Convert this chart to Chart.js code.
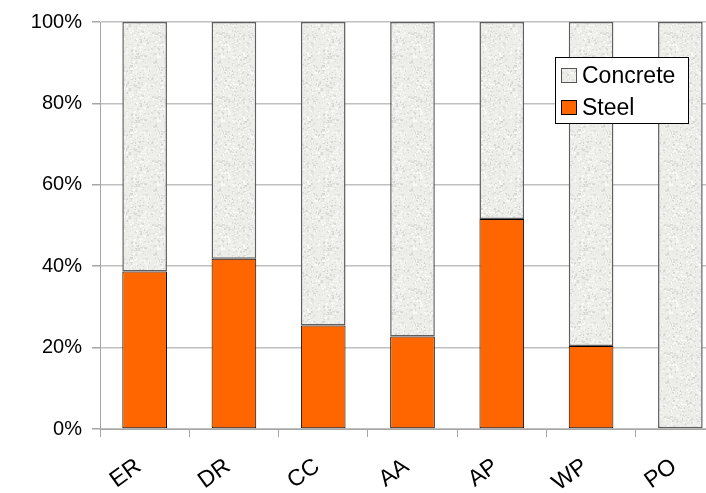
<!DOCTYPE html>
<html>
<head>
<meta charset="utf-8">
<script src="https://cdn.jsdelivr.net/npm/chart.js@4.4.0/dist/chart.umd.min.js"></script>
<style>
  html, body { margin: 0; padding: 0; background: #fff; overflow: hidden; }
  #wrap { width: 730px; height: 493px; }
</style>
</head>
<body>
<div id="wrap"><canvas id="c" width="730" height="493"></canvas></div>
<script>
// Share of structure material by site (percent)
const categories = ['ER', 'DR', 'CC', 'AA', 'AP', 'WP', 'PO'];
const steelShare = [38.7, 41.8, 25.4, 22.7, 51.6, 20.4, 0];
const concreteShare = [61.3, 58.2, 74.6, 77.3, 48.4, 79.6, 100];
const yTicks = [0, 20, 40, 60, 80, 100];

const FONT = "'Liberation Sans', Arial, sans-serif";

// Mottled grey fill used for the concrete portion
function makeConcretePattern() {
  const size = 64;
  const pc = document.createElement('canvas');
  pc.width = size; pc.height = size;
  const g = pc.getContext('2d');
  g.fillStyle = '#ededea';
  g.fillRect(0, 0, size, size);
  let seed = 98765;
  const rnd = () => { seed = (seed * 1103515245 + 12345) & 0x7fffffff; return seed / 0x7fffffff; };
  for (let i = 0; i < 700; i++) {
    const x = Math.floor(rnd() * size), y = Math.floor(rnd() * size);
    const dark = rnd() < 0.6;
    const v = dark ? 205 + Math.floor(rnd() * 25) : 245 + Math.floor(rnd() * 10);
    g.fillStyle = `rgba(${v},${v},${v - 2},0.8)`;
    const w = 1 + Math.floor(rnd() * 2), h = 1 + Math.floor(rnd() * 2);
    g.fillRect(x, y, w, h);
  }
  const c = document.getElementById('c').getContext('2d');
  return c.createPattern(pc, 'repeat');
}
const concreteFill = makeConcretePattern();

// Boxed legend drawn inside the plot area, top right
const boxedLegend = {
  id: 'boxedLegend',
  afterDraw(chart) {
    const ctx = chart.ctx;
    const x = 555, y = 57, w = 133, h = 66;
    ctx.save();
    ctx.fillStyle = '#ffffff';
    ctx.fillRect(x, y, w, h);
    ctx.strokeStyle = '#000000';
    ctx.lineWidth = 1;
    ctx.strokeRect(x + 0.5, y + 0.5, w, h);
    const items = [
      { label: 'Concrete', fill: concreteFill, stroke: '#555555', cy: 76 },
      { label: 'Steel', fill: '#ff6600', stroke: '#000000', cy: 108 }
    ];
    ctx.font = '23px ' + FONT;
    ctx.textBaseline = 'middle';
    items.forEach(it => {
      ctx.fillStyle = it.fill;
      ctx.fillRect(561, it.cy - 8, 16, 15);
      ctx.strokeStyle = it.stroke;
      ctx.strokeRect(561.5, it.cy - 7.5, 15, 14);
      ctx.fillStyle = '#000000';
      ctx.fillText(it.label, 582, it.cy + 1);
    });
    ctx.restore();
  }
};

new Chart(document.getElementById('c'), {
  type: 'bar',
  data: {
    labels: categories,
    datasets: [
      {
        label: 'Steel',
        data: steelShare,
        backgroundColor: '#ff6600',
        borderColor: '#000000',
        borderWidth: 1,
        borderSkipped: false,
        barPercentage: 0.5,
        categoryPercentage: 1.0
      },
      {
        label: 'Concrete',
        data: concreteShare,
        backgroundColor: concreteFill,
        borderColor: '#5f5f5f',
        borderWidth: 1.5,
        borderSkipped: false,
        barPercentage: 0.5,
        categoryPercentage: 1.0
      }
    ]
  },
  options: {
    responsive: false,
    animation: false,
    layout: { padding: { top: 20, right: 5, left: 0, bottom: 0 } },
    plugins: { legend: { display: false }, tooltip: { enabled: false } },
    scales: {
      x: {
        stacked: true,
        offset: true,
        grid: {
          display: true,
          drawOnChartArea: false,
          offset: true,
          tickLength: 8,
          color: '#a6a6a6'
        },
        border: { color: '#a6a6a6', width: 1 },
        ticks: {
          color: '#000000',
          font: { family: FONT, size: 23 },
          minRotation: 36,
          maxRotation: 36,
          padding: 16,
          labelOffset: -6
        },
        afterFit(scale) { scale.height = 64; }
      },
      y: {
        stacked: true,
        min: 0,
        max: 100,
        afterBuildTicks(scale) { scale.ticks = yTicks.map(v => ({ value: v })); },
        grid: {
          color: '#c0c0c0',
          lineWidth: 1.5,
          tickLength: 8,
          tickColor: '#a6a6a6'
        },
        border: { color: '#a6a6a6', width: 1 },
        ticks: {
          color: '#000000',
          font: { family: FONT, size: 20 },
          padding: 10,
          callback: v => v + '%'
        },
        afterFit(scale) { scale.width = 100; }
      }
    }
  },
  plugins: [boxedLegend]
});
</script>
</body>
</html>
